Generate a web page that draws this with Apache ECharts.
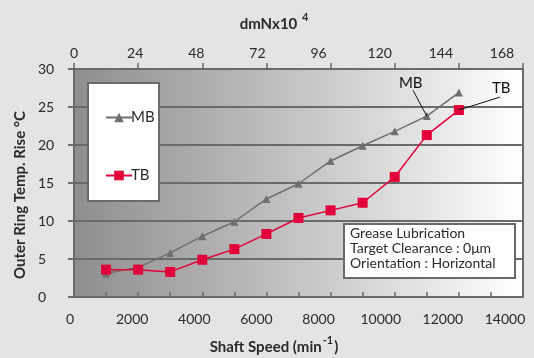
<!DOCTYPE html>
<html><head><meta charset="utf-8">
<script src="https://cdn.jsdelivr.net/npm/echarts@6/dist/echarts.min.js"></script>
<style>html,body{margin:0;padding:0;background:#e4e4e4;}#c{width:534px;height:358px;}</style>
</head><body><div id="c"></div>
<script>
const speeds = [1000,2000,3000,4000,5000,6000,7000,8000,9000,10000,11000,12000];
const mbValues = [3.1,3.9,5.8,8.0,9.9,12.9,14.9,17.9,19.9,21.8,23.8,26.9];
const tbValues = [3.6,3.6,3.3,4.9,6.3,8.3,10.4,11.4,12.4,15.8,21.3,24.6];
const xTicks = [0,2000,4000,6000,8000,10000,12000,14000];
const topTicks = [0,24,48,72,96,120,144,168];
const yTicks = [0,5,10,15,20,25,30];
const noteLines = ['Grease Lubrication','Target Clearance : 0\u03bcm','Orientation : Horizontal'];

const FONT = 'Lato';
const chart = echarts.init(document.getElementById('c'), null, {renderer:'canvas'});
const axisCol = '#6a6a6a';
const txt = '#2a2a2a';
const lbl = {fontFamily:FONT,fontSize:14,color:txt};
const hiddenY = (gi)=>({type:'value',gridIndex:gi,min:0,max:30,show:false});
const labelOnly = {axisLine:{show:false},axisTick:{show:false},splitLine:{show:false}};
chart.setOption({
  backgroundColor:'#e4e4e4',
  animation:false,
  textStyle:{fontFamily:FONT},
  grid:[
    {left:74,right:11,top:69,bottom:61,show:true,containLabel:false,outerBoundsMode:'none',borderColor:axisCol,borderWidth:2,
     backgroundColor:new echarts.graphic.LinearGradient(0,0,1,0,[{offset:0,color:'#8e8e8e'},{offset:0.5,color:'#c4c4c4'},{offset:1,color:'#ffffff'}])},
    {left:70,right:29,top:69,bottom:61,show:false,containLabel:false,outerBoundsMode:'none'},
    {left:74,right:32,top:69,bottom:61,show:false,containLabel:false,outerBoundsMode:'none'}
  ],
  legend:{orient:'vertical',left:100,top:105,itemGap:43,itemWidth:26,itemHeight:12,
    textStyle:{fontFamily:FONT,fontSize:15,color:txt,padding:[0,0,0,-6]},
    data:['MB','TB']},
  xAxis:[{type:'value',gridIndex:0,position:'bottom',min:xTicks[0],max:xTicks[xTicks.length-1],interval:2000,
    axisLine:{lineStyle:{color:axisCol,width:2}},
    axisTick:{inside:true,length:5,lineStyle:{color:axisCol,width:1.5}},
    minorTick:{show:true,splitNumber:2,length:5,lineStyle:{color:axisCol,width:1.5}},
    splitLine:{show:false},axisLabel:{show:false}
  },{type:'value',gridIndex:0,position:'top',min:topTicks[0],max:topTicks[topTicks.length-1],interval:24,
    axisLine:{lineStyle:{color:axisCol,width:2}},
    axisTick:{inside:false,length:6,lineStyle:{color:axisCol,width:1.5}},
    splitLine:{show:false},axisLabel:{show:false}
  },{type:'value',gridIndex:1,position:'bottom',min:xTicks[0],max:xTicks[xTicks.length-1],interval:2000,
    ...labelOnly,axisLabel:{...lbl,margin:15,formatter:v=>String(v)}
  },{type:'value',gridIndex:2,position:'top',min:topTicks[0],max:topTicks[topTicks.length-1],interval:24,
    ...labelOnly,axisLabel:{...lbl,margin:9,formatter:v=>String(v)}
  }],
  yAxis:[{type:'value',gridIndex:0,min:yTicks[0],max:yTicks[yTicks.length-1],interval:5,
    axisLine:{lineStyle:{color:axisCol,width:2}},
    axisTick:{inside:false,length:6,lineStyle:{color:axisCol,width:2}},
    splitLine:{show:true,lineStyle:{color:axisCol,width:2}},
    axisLabel:{...lbl,margin:36,align:'left'}
  },hiddenY(1),hiddenY(2)],
  series:[{
    name:'MB',type:'line',xAxisIndex:0,yAxisIndex:0,data:speeds.map((s,i)=>[s,mbValues[i]]),
    symbol:'triangle',symbolSize:8,color:'#6e6e6e',
    lineStyle:{color:'#6e6e6e',width:1.5},itemStyle:{color:'#6e6e6e'},z:3,
    markLine:{silent:true,symbol:'none',lineStyle:{color:'#111',width:1,type:'solid'},label:{show:false},
      data:[[{coord:[10570,27.2]},{coord:[11000,23.8]}]]},
    markPoint:{symbol:'circle',symbolSize:0,
      label:{show:true,formatter:'MB',fontFamily:FONT,fontSize:15,color:'#111'},
      data:[{coord:[10500,28.1]}]}
  },{
    name:'TB',type:'line',xAxisIndex:0,yAxisIndex:0,data:speeds.map((s,i)=>[s,tbValues[i]]),
    symbol:'rect',symbolSize:10,color:'#e2003a',
    lineStyle:{color:'#e2003a',width:1.5},itemStyle:{color:'#e2003a'},z:4,
    markLine:{silent:true,symbol:'none',lineStyle:{color:'#111',width:1,type:'solid'},label:{show:false},
      data:[[{coord:[13280,26.3]},{coord:[12000,24.6]}]]},
    markPoint:{symbol:'circle',symbolSize:0,
      label:{show:true,formatter:'TB',fontFamily:FONT,fontSize:15,color:'#111'},
      data:[{coord:[13320,27.5]}]}
  }],
  graphic:[
    {type:'rect',z:1,left:87,top:82,shape:{width:71,height:118},style:{fill:'#ffffff',stroke:axisCol,lineWidth:2}},
    {type:'rect',z:1,left:343,top:223,shape:{width:171,height:54},style:{fill:'#ffffff',stroke:axisCol,lineWidth:2}},
    {type:'text',z:2,left:350,top:226,style:{text:noteLines.join('\n'),fontFamily:FONT,fontSize:14,lineHeight:15,fill:txt}},
    {type:'text',z:2,x:274,y:344,style:{text:'{a|Shaft Speed (min}{s|-1}{a|)}',align:'center',verticalAlign:'middle',
      rich:{a:{fontFamily:FONT,fontSize:15,fontWeight:'bold',fill:txt,padding:[6,0,0,0]},s:{fontFamily:FONT,fontSize:11,fontWeight:'bold',fill:txt,padding:[0,1,8,1]}}}},
    {type:'text',z:2,x:274,y:21,style:{text:'{a|dmNx10 }{s|4}',align:'center',verticalAlign:'middle',
      rich:{a:{fontFamily:FONT,fontSize:15,fontWeight:'bold',fill:txt,padding:[6,0,0,0]},s:{fontFamily:FONT,fontSize:11,fontWeight:'bold',fill:txt,padding:[0,0,8,1]}}}},
    {type:'text',z:2,x:20,y:195,rotation:Math.PI/2,style:{text:'Outer Ring Temp. Rise \u00b0C',align:'center',verticalAlign:'middle',
      fontFamily:FONT,fontSize:15,fontWeight:'bold',fill:txt}}
  ]
});
</script></body></html>
